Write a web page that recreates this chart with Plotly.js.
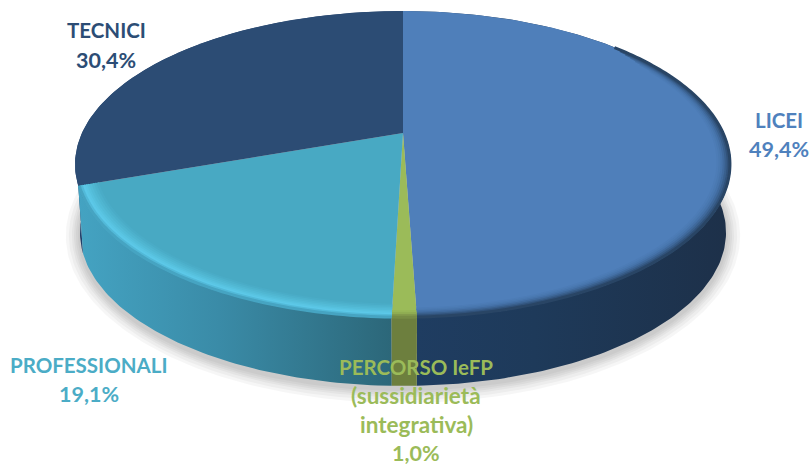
<!DOCTYPE html>
<html><head><meta charset="utf-8">
<script src="https://cdn.plot.ly/plotly-3.0.1.min.js"></script>
<style>html,body{margin:0;padding:0;background:#fff}#c{width:812px;height:465px}</style>
</head><body><div id="c"></div>
<script>
// Data, clockwise from 12 o'clock
const categories = ['LICEI', 'PERCORSO IeFP', 'PROFESSIONALI', 'TECNICI'];
const values = [49.4, 1.0, 19.1, 30.4];
const valueLabels = ['49,4%', '1,0%', '19,1%', '30,4%'];
const labelLines = [['LICEI'], ['PERCORSO IeFP', '(sussidiarietà', 'integrativa)'], ['PROFESSIONALI'], ['TECNICI']];

// Styles
const topColors = ['#4f7fba', '#9bbb59', '#48a9c3', '#2c4c74'];
const textColors = ['#4f81bd', '#9bbb59', '#4bacc6', '#2c4d75'];
const sideScales = [
  [[0, '#1f3d62'], [0.4, '#1e3a5a'], [1, '#1d3049']],
  [[0, '#6d7f3e'], [1, '#6d7f3e']],
  [[0, '#44a3c2'], [0.45, '#3a8ba7'], [1, '#2c6779']],
  [[0, '#22406a'], [1, '#22406a']]
];
const labelAnchors = [[779, 120], [416, 367], [89, 365], [106, 30]];
const lineStep = [29, 28.5, 29, 30];
const capsSize = 20.5, lowerSize = 22.5, percentSize = 21.5;

// Perspective disc geometry (pixel space of the hidden axes)
const CX = 403, APEX_Y = 133, A = 321, B = 147, K = 0.205, DEPTH = 68, BOTTOM_SCALE = 0.985;
function project(f, r, drop, s) {
  const t = 2 * Math.PI * f, u = r * Math.sin(t), v = r * Math.cos(t), w = 1 + K * v;
  return [CX + s * A * u / w, APEX_Y - B * v / w + drop];
}
function arc(f0, f1, r, drop, s) {
  const n = Math.max(2, Math.ceil(Math.abs(f1 - f0) * 360)), xs = [], ys = [];
  for (let i = 0; i <= n; i++) {
    const p = project(f0 + (f1 - f0) * i / n, r, drop, s);
    xs.push(p[0]); ys.push(p[1]);
  }
  return [xs, ys];
}

const total = values.reduce((a, b) => a + b, 0);
const bounds = [0];
values.forEach(v => bounds.push(bounds[bounds.length - 1] + v / total));

const traces = [];
const base = {type: 'scatter', hoverinfo: 'skip', showlegend: false};

// soft shadow beneath the disc
[14, 11, 8, 6, 4, 2].forEach(g => {
  const a = arc(0, 1, 1, DEPTH + 3, BOTTOM_SCALE);
  const xs = a[0].map(x => CX + (x - CX) * (1 + g / 320));
  const ys = a[1].map(y => 232 + (y - 232) * (1 + g / 155));
  traces.push(Object.assign({}, base, {x: xs, y: ys, mode: 'lines', fill: 'toself',
    line: {width: 0}, fillcolor: 'rgba(0,0,0,0.035)'}));
});

// side walls
[3, 0, 2, 1].forEach(i => {
  const t = arc(bounds[i], bounds[i + 1], 1, 0, 1);
  const b = arc(bounds[i + 1], bounds[i], 1, DEPTH, BOTTOM_SCALE);
  traces.push(Object.assign({}, base, {
    x: t[0].concat(b[0]), y: t[1].concat(b[1]), mode: 'lines', fill: 'toself',
    line: {width: 0}, fillcolor: sideScales[i][0][1],
    fillgradient: {type: 'horizontal', colorscale: sideScales[i]}
  }));
});

// top faces
values.forEach((v, i) => {
  const t = arc(bounds[i], bounds[i + 1], 1, 0, 1);
  traces.push(Object.assign({}, base, {
    name: categories[i],
    x: [CX].concat(t[0], [CX]), y: [APEX_Y].concat(t[1], [APEX_Y]),
    mode: 'lines', fill: 'toself', line: {width: 0}, fillcolor: topColors[i]
  }));
});

// bevel along the front rim: soft ramps towards the edge
const rims = [
  {i: 0, rings: [[0.962, '#4d7cb6', 0.17], [0.968, '#4a79b1', 0.16], [0.974, '#4673aa', 0.155], [0.980, '#406a9d', 0.15], [0.986, '#395f8c', 0.145], [0.992, '#31527a', 0.14], [0.997, '#294565', 0.135]]},
  {i: 1, rings: [[0.974, '#97b657'], [0.982, '#8fac52'], [0.990, '#839b4c'], [0.997, '#778c45']]},
  {i: 2, rings: [[0.945, '#4aacc7'], [0.952, '#4db1cc'], [0.959, '#50b6d1'], [0.966, '#53bbd7'], [0.973, '#56c0dd'], [0.979, '#5ac5e3'], [0.985, '#5cc8e8'], [0.991, '#52b9d8'], [0.997, '#46a4c2']]}
];
rims.forEach(rim => {
  rim.rings.forEach(ring => {
    const f0 = ring[2] === undefined ? bounds[rim.i] : ring[2];
    const a = arc(f0, bounds[rim.i + 1], ring[0], 0, 1);
    traces.push(Object.assign({}, base, {x: a[0], y: a[1], mode: 'lines',
      line: {color: ring[1], width: 3, simplify: false}}));
  });
});

// labels
const annotations = [];
categories.forEach((c, i) => {
  labelLines[i].concat([valueLabels[i]]).forEach((text, j) => {
    const isPercent = j === labelLines[i].length;
    const isLower = text !== text.toUpperCase();
    const size = isPercent ? percentSize : (isLower && text !== 'PERCORSO IeFP' ? lowerSize : capsSize);
    annotations.push({x: labelAnchors[i][0], y: labelAnchors[i][1] + j * lineStep[i], xref: 'x', yref: 'y',
      text: text, showarrow: false, xanchor: 'center', yanchor: 'middle',
      font: {family: 'Lato, Carlito, sans-serif', size: size, weight: 700, color: textColors[i]}});
  });
});

Plotly.newPlot('c', traces, {
  width: 812, height: 465, margin: {l: 0, r: 0, t: 0, b: 0},
  paper_bgcolor: '#fff', plot_bgcolor: '#fff', showlegend: false,
  xaxis: {range: [0, 812], visible: false, fixedrange: true},
  yaxis: {range: [465, 0], visible: false, fixedrange: true},
  annotations: annotations
}, {displayModeBar: false, staticPlot: true});
</script></body></html>
